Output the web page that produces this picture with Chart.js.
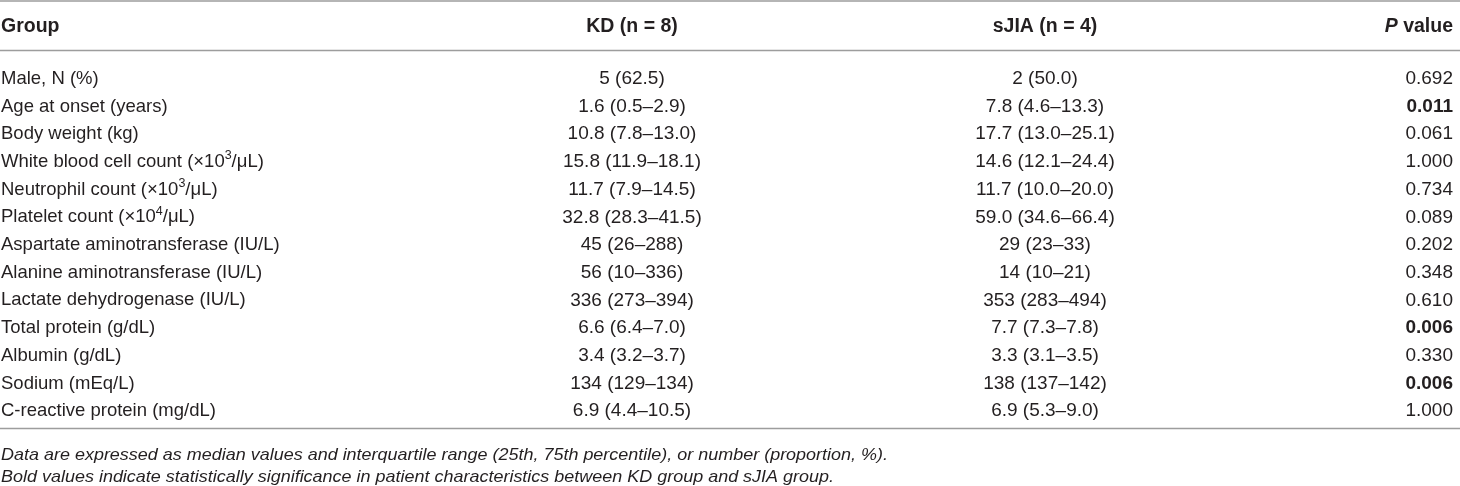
<!DOCTYPE html>
<html>
<head>
<meta charset="utf-8">
<script src="https://cdn.jsdelivr.net/npm/chart.js@4"></script>
<style>
  body { margin: 0; background: #fff; }
  #wrap { width: 1460px; height: 486px; position: relative; }
</style>
</head>
<body>
<div id="wrap"><canvas id="tableChart"></canvas></div>
<script>
const headers = ['Group', 'KD (n = 8)', 'sJIA (n = 4)', 'P value'];

const groups = [
    'Male, N (%)',
    'Age at onset (years)',
    'Body weight (kg)',
    'White blood cell count (\u00d710\u00b3/\u03bcL)',
    'Neutrophil count (\u00d710\u00b3/\u03bcL)',
    'Platelet count (\u00d710\u2074/\u03bcL)',
    'Aspartate aminotransferase (IU/L)',
    'Alanine aminotransferase (IU/L)',
    'Lactate dehydrogenase (IU/L)',
    'Total protein (g/dL)',
    'Albumin (g/dL)',
    'Sodium (mEq/L)',
    'C-reactive protein (mg/dL)'
];

const kdValues = [
    '5 (62.5)', '1.6 (0.5\u20132.9)', '10.8 (7.8\u201313.0)', '15.8 (11.9\u201318.1)',
    '11.7 (7.9\u201314.5)', '32.8 (28.3\u201341.5)', '45 (26\u2013288)', '56 (10\u2013336)',
    '336 (273\u2013394)', '6.6 (6.4\u20137.0)', '3.4 (3.2\u20133.7)', '134 (129\u2013134)',
    '6.9 (4.4\u201310.5)'
];

const sjiaValues = [
    '2 (50.0)', '7.8 (4.6\u201313.3)', '17.7 (13.0\u201325.1)', '14.6 (12.1\u201324.4)',
    '11.7 (10.0\u201320.0)', '59.0 (34.6\u201366.4)', '29 (23\u201333)', '14 (10\u201321)',
    '353 (283\u2013494)', '7.7 (7.3\u20137.8)', '3.3 (3.1\u20133.5)', '138 (137\u2013142)',
    '6.9 (5.3\u20139.0)'
];

const pValues = ['0.692', '0.011', '0.061', '1.000', '0.734', '0.089', '0.202',
                 '0.348', '0.610', '0.006', '0.330', '0.006', '1.000'];

const significant = [false, true, false, false, false, false, false,
                     false, false, true, false, true, false];

const notes = [
    'Data are expressed as median values and interquartile range (25th, 75th percentile), or number (proportion, %).',
    'Bold values indicate statistically significance in patient characteristics between KD group and sJIA group.'
];

// layout (pixels along the hidden x scale)
const colX = [0, 632, 1045, 1453];
const noteWidths = [887, 833];
const FONT = '"Liberation Sans", Arial, Helvetica, sans-serif';
const INK = '#231f20';
const RULE = '#9d9d9d';
const SUP = { '\u00b3': '3', '\u2074': '4' };

// draw a label, raising superscript digits
function drawLabel(ctx, text, x, y) {
    let cx = x;
    let buf = '';
    const flush = () => {
        if (!buf) return;
        ctx.font = '18.5px ' + FONT;
        ctx.fillText(buf, cx, y);
        cx += ctx.measureText(buf).width;
        buf = '';
    };
    for (const ch of text) {
        if (SUP[ch]) {
            flush();
            ctx.font = '12.5px ' + FONT;
            ctx.fillText(SUP[ch], cx, y - 6);
            cx += ctx.measureText(SUP[ch]).width;
        } else {
            buf += ch;
        }
    }
    flush();
}

const tablePlugin = {
    id: 'tablePlugin',
    afterDraw(chart) {
        const ctx = chart.ctx;
        const x = chart.scales.x;
        const y = chart.scales.y;
        const area = chart.chartArea;
        const px = k => x.getPixelForValue(colX[k]);

        ctx.save();
        // rules
        ctx.strokeStyle = RULE;
        ctx.lineWidth = 1.5;
        [1, area.top - 14.5, area.bottom + 3.5].forEach(ly => {
            ctx.beginPath();
            ctx.moveTo(0, ly);
            ctx.lineTo(chart.width, ly);
            ctx.stroke();
        });

        ctx.fillStyle = INK;
        ctx.textBaseline = 'middle';

        // header
        const hy = 27;
        ctx.font = 'bold 19.5px ' + FONT;
        ctx.textAlign = 'left';
        ctx.fillText(headers[0], px(0) + 1, hy);
        ctx.textAlign = 'center';
        ctx.fillText(headers[1], px(1), hy);
        ctx.fillText(headers[2], px(2), hy);
        ctx.textAlign = 'right';
        const rest = headers[3].slice(1);
        ctx.fillText(rest, px(3), hy);
        const rw = ctx.measureText(rest).width;
        ctx.font = 'italic bold 19.5px ' + FONT;
        ctx.fillText(headers[3][0], px(3) - rw, hy);

        // body rows
        groups.forEach((g, i) => {
            const ry = y.getPixelForValue(i);
            ctx.textAlign = 'left';
            drawLabel(ctx, g, px(0) + 1, ry);
            ctx.font = '19px ' + FONT;
            ctx.textAlign = 'center';
            ctx.fillText(kdValues[i], px(1), ry);
            ctx.fillText(sjiaValues[i], px(2), ry);
            ctx.textAlign = 'right';
            ctx.font = (significant[i] ? 'bold ' : '') + '19px ' + FONT;
            ctx.fillText(pValues[i], px(3), ry);
        });

        // footnotes
        ctx.textAlign = 'left';
        ctx.font = 'italic 16.5px ' + FONT;
        notes.forEach((n, i) => {
            const ny = area.bottom + 30 + i * 22;
            const w = ctx.measureText(n).width;
            ctx.save();
            ctx.translate(px(0) + 1, ny);
            ctx.scale(noteWidths[i] / w, 1);
            ctx.fillText(n, 0, 0);
            ctx.restore();
        });
        ctx.restore();
    }
};

const ctx = document.getElementById('tableChart').getContext('2d');
const tableChart = new Chart(ctx, {
    type: 'bar',
    data: {
        labels: groups,
        datasets: []
    },
    options: {
        indexAxis: 'y',
        responsive: true,
        maintainAspectRatio: false,
        animation: false,
        layout: { padding: { top: 65, bottom: 61, left: 0, right: 0 } },
        scales: {
            x: { type: 'linear', min: 0, max: 1460, display: false },
            y: { type: 'category', offset: true, display: false }
        },
        plugins: {
            legend: { display: false },
            tooltip: { enabled: false }
        }
    },
    plugins: [tablePlugin]
});
</script>
</body>
</html>
